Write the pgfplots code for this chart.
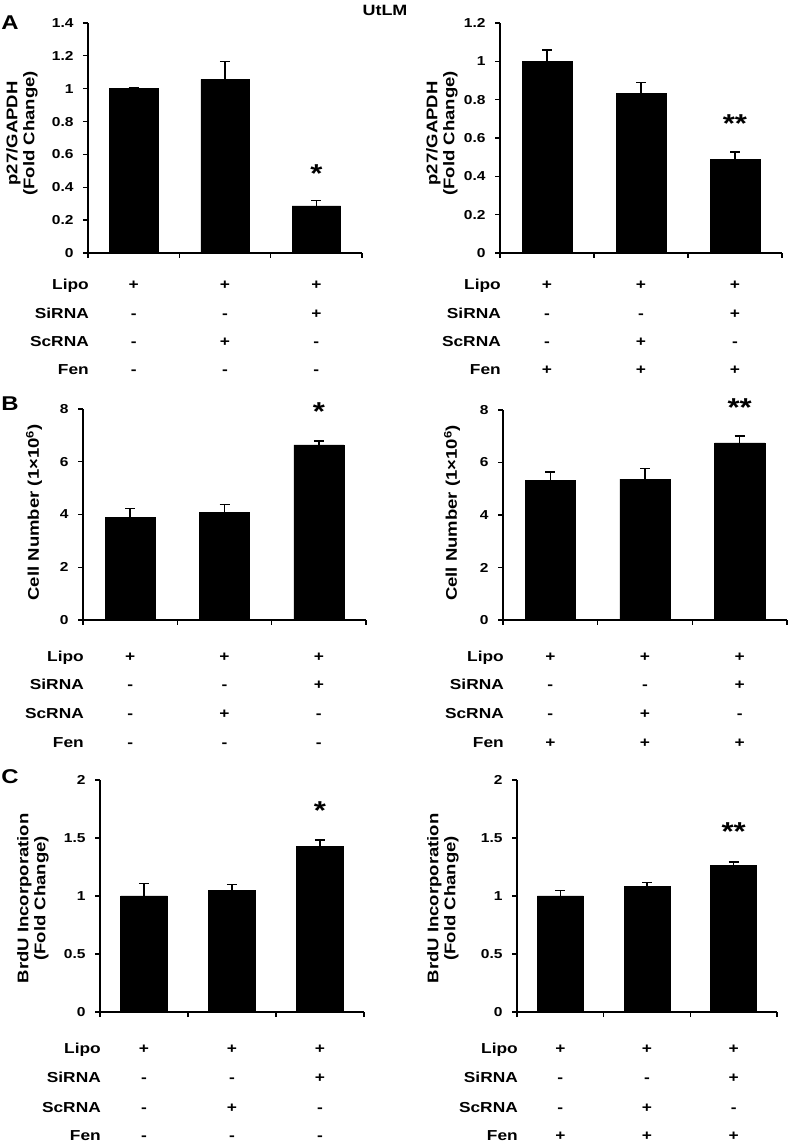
\documentclass[border=0pt]{standalone}
\usepackage{fontspec}
\setmainfont{Liberation Sans}[FakeStretch=1.2]
\usepackage{pgfplots}
\pgfplotsset{compat=1.18}
\newcommand\fs[1]{\fontsize{#1}{#1}\selectfont}
\newcommand\rowfont{\bfseries\fs{14.5}}
\newcommand\signrow[5]{%
  \node[anchor=base east, font=\rowfont, inner sep=0pt] at ([yshift=-#1bp, xshift=1bp]axis cs:-0.5,0) {#2};
  \node[anchor=base, font=\rowfont, inner sep=0pt] at ([yshift=-#1bp]axis cs:0,0) {#3};
  \node[anchor=base, font=\rowfont, inner sep=0pt] at ([yshift=-#1bp]axis cs:1,0) {#4};
  \node[anchor=base, font=\rowfont, inner sep=0pt] at ([yshift=-#1bp]axis cs:2,0) {#5};
}
\tikzset{
  star/.style={anchor=base, font=\bfseries\fs{26}, inner sep=0pt},
  ylab/.style={rotate=90, align=center, font=\bfseries\fontsize{15.5}{17}\selectfont, inner sep=0pt},
}
\pgfplotsset{
  panel/.style={
    scale only axis, ybar, bar width=0.53,
    axis x line*=bottom, axis y line*=left,
    xmin=-0.5, xmax=2.5, ymin=0,
    xtick={-0.5,0.5,1.5,2.5}, xticklabels={},
    tick align=outside, major tick length=5bp,
    tick style={black, line width=1.3bp},
    axis line style={black, line width=1.4bp},
    yticklabel style={font=\bfseries\fs{13}, xshift=-6bp},
    clip=false, anchor=south west,
  },
  bars/.style={fill=black, draw=black, line width=0.5bp,
    error bars/.cd, y dir=plus, y explicit,
    error bar style={line width=1.4bp, black},
    error mark options={rotate=90, mark size=5bp, line width=1.4bp, black}},
}
\begin{document}
\begin{tikzpicture}
\path[use as bounding box] (0bp,0bp) rectangle (788bp,1141bp);
\node[font=\bfseries\fs{15}] at (385bp,1131bp) {UtLM};
\node[font=\bfseries\fs{20}] at (10bp,1118bp) {A};
\node[font=\bfseries\fs{20}] at (10bp,737bp) {B};
\node[font=\bfseries\fs{20}] at (10bp,364bp) {C};

% ---------- A left
\begin{axis}[panel, at={(88bp,888bp)}, width=274bp, height=230bp, ymax=1.4,
  ytick={0,0.2,0.4,0.6,0.8,1,1.2,1.4}, yticklabels={0,0.2,0.4,0.6,0.8,1,1.2,1.4}]
\addplot[bars] table[x=x, y=y, y error=e] {
x y e
0 1.0 0.005
1 1.057 0.11
2 0.287 0.034
};
\node[star] at ([yshift=-14bp]axis cs:2,0.517) {*};
\node[ylab] at ([xshift=-66bp]rel axis cs:0,0.52) {p27/GAPDH\\(Fold Change)};
\signrow{37}{Lipo}{+}{+}{+}
\signrow{66}{SiRNA}{-}{-}{+}
\signrow{94}{ScRNA}{-}{+}{-}
\signrow{122}{Fen}{-}{-}{-}
\end{axis}

% ---------- A right
\begin{axis}[panel, at={(500bp,888bp)}, width=282bp, height=230bp, ymax=1.2,
  ytick={0,0.2,0.4,0.6,0.8,1,1.2}, yticklabels={0,0.2,0.4,0.6,0.8,1,1.2}]
\addplot[bars] table[x=x, y=y, y error=e] {
x y e
0 1.0 0.06
1 0.832 0.058
2 0.488 0.038
};
\node[star] at ([yshift=-14bp]axis cs:2,0.70) {**};
\node[ylab] at ([xshift=-58bp]rel axis cs:0,0.52) {p27/GAPDH\\(Fold Change)};
\signrow{37}{Lipo}{+}{+}{+}
\signrow{66}{SiRNA}{-}{-}{+}
\signrow{94}{ScRNA}{-}{+}{-}
\signrow{122}{Fen}{+}{+}{+}
\end{axis}

% ---------- B left
\begin{axis}[panel, at={(83bp,521bp)}, width=283bp, height=211bp, ymax=8,
  ytick={0,2,4,6,8}, yticklabels={0,2,4,6,8}]
\addplot[bars] table[x=x, y=y, y error=e] {
x y e
0 3.88 0.35
1 4.07 0.32
2 6.64 0.15
};
\node[star] at ([yshift=-14bp]axis cs:2,8.09) {*};
\node[ylab] at ([xshift=-49bp]rel axis cs:0,0.51) {Cell Number (1×10\textsuperscript{6})};
\signrow{42}{Lipo}{+}{+}{+}
\signrow{70}{SiRNA}{-}{-}{+}
\signrow{99}{ScRNA}{-}{+}{-}
\signrow{128}{Fen}{-}{-}{-}
\end{axis}

% ---------- B right
\begin{axis}[panel, at={(503bp,521bp)}, width=284bp, height=210bp, ymax=8,
  ytick={0,2,4,6,8}, yticklabels={0,2,4,6,8}]
\addplot[bars] table[x=x, y=y, y error=e] {
x y e
0 5.33 0.31
1 5.37 0.39
2 6.75 0.26
};
\node[star] at ([yshift=-14bp]axis cs:2,8.28) {**};
\node[ylab] at ([xshift=-51bp]rel axis cs:0,0.51) {Cell Number (1×10\textsuperscript{6})};
\signrow{42}{Lipo}{+}{+}{+}
\signrow{70}{SiRNA}{-}{-}{+}
\signrow{99}{ScRNA}{-}{+}{-}
\signrow{128}{Fen}{+}{+}{+}
\end{axis}

% ---------- C left
\begin{axis}[panel, at={(100bp,129bp)}, width=264bp, height=232bp, ymax=2,
  ytick={0,0.5,1,1.5,2}, yticklabels={0,0.5,1,1.5,2}]
\addplot[bars] table[x=x, y=y, y error=e] {
x y e
0 1.0 0.11
1 1.046 0.055
2 1.431 0.052
};
\node[star] at ([yshift=-14bp]axis cs:2,1.78) {*};
\node[ylab] at ([xshift=-67bp]rel axis cs:0,0.49) {BrdU Incorporation\\(Fold Change)};
\signrow{41}{Lipo}{+}{+}{+}
\signrow{70}{SiRNA}{-}{-}{+}
\signrow{100}{ScRNA}{-}{+}{-}
\signrow{128}{Fen}{-}{-}{-}
\end{axis}

% ---------- C right
\begin{axis}[panel, at={(517bp,129bp)}, width=260bp, height=232bp, ymax=2,
  ytick={0,0.5,1,1.5,2}, yticklabels={0,0.5,1,1.5,2}]
\addplot[bars] table[x=x, y=y, y error=e] {
x y e
0 1.0 0.045
1 1.08 0.038
2 1.265 0.028
};
\node[star] at ([yshift=-14bp]axis cs:2,1.60) {**};
\node[ylab] at ([xshift=-74bp]rel axis cs:0,0.49) {BrdU Incorporation\\(Fold Change)};
\signrow{41}{Lipo}{+}{+}{+}
\signrow{70}{SiRNA}{-}{-}{+}
\signrow{100}{ScRNA}{-}{+}{-}
\signrow{128}{Fen}{+}{+}{+}
\end{axis}
\end{tikzpicture}
\end{document}
